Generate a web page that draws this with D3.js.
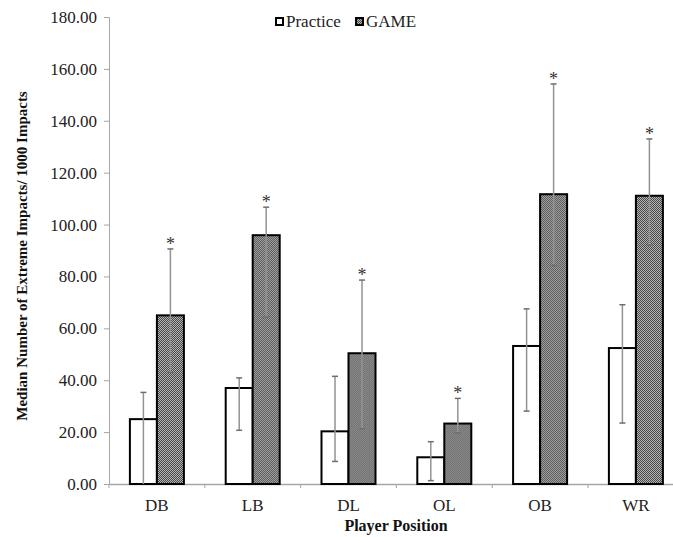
<!DOCTYPE html>
<html>
<head>
<meta charset="utf-8">
<script src="https://cdn.jsdelivr.net/npm/d3@7"></script>
<style>
  body { margin: 0; background: #fff; }
  svg { display: block; }
</style>
</head>
<body>
<div id="chart"></div>
<script>
// data
var positions = ["DB", "LB", "DL", "OL", "OB", "WR"];
var seriesNames = ["Practice", "GAME"];
var practice = [25.0, 37.0, 20.3, 10.3, 53.2, 52.4];
var practiceLow = [0.0, 20.7, 8.7, 1.3, 28.1, 23.5];
var practiceHigh = [35.3, 40.9, 41.5, 16.3, 67.5, 69.1];
var game = [65.0, 95.9, 50.4, 23.3, 111.7, 111.1];
var gameLow = [43.0, 64.3, 21.3, 19.7, 84.2, 92.1];
var gameHigh = [90.6, 106.7, 78.6, 33.0, 154.2, 133.0];
var yTicks = [0, 20, 40, 60, 80, 100, 120, 140, 160, 180];

var width = 673,
  height = 537;
var margin = { top: 17, left: 109, bottom: 53 };
var plotBottom = height - margin.bottom;
var serif = "Liberation Serif, Times New Roman, serif";

var svg = d3
  .select("#chart")
  .append("svg")
  .attr("width", width)
  .attr("height", height);

// checker fill for the GAME bars
var defs = svg.append("defs");
var pat = defs
  .append("pattern")
  .attr("id", "checker")
  .attr("width", 2)
  .attr("height", 2)
  .attr("patternUnits", "userSpaceOnUse");
pat.append("rect").attr("width", 2).attr("height", 2).attr("fill", "#b4b4b4");
pat.append("rect").attr("width", 1).attr("height", 1).attr("fill", "#484848");
pat.append("rect").attr("x", 1).attr("y", 1).attr("width", 1).attr("height", 1).attr("fill", "#484848");

var y = d3.scaleLinear().domain([0, 180]).range([plotBottom, margin.top]);

// the axis runs past the right edge of the picture, as in the original
var x = d3
  .scaleBand()
  .domain(positions)
  .range([margin.left, margin.left + 6 * 95.8])
  .paddingInner(0)
  .paddingOuter(0);

var xSub = d3
  .scaleBand()
  .domain(seriesNames)
  .range([0, x.bandwidth()])
  .paddingInner(0)
  .paddingOuter(0.774);

var rows = positions.map(function (p, i) {
  return {
    pos: p,
    vals: [
      { s: "Practice", v: practice[i], lo: practiceLow[i], hi: practiceHigh[i] },
      { s: "GAME", v: game[i], lo: gameLow[i], hi: gameHigh[i] },
    ],
  };
});

// y axis
var yAxis = svg
  .append("g")
  .attr("transform", "translate(" + margin.left + ",0)")
  .call(
    d3
      .axisLeft(y)
      .tickValues(yTicks)
      .tickSize(5)
      .tickPadding(7)
      .tickFormat(d3.format(".2f"))
  );
yAxis.select(".domain").attr("stroke", "#a6a6a6");
yAxis.selectAll(".tick line").attr("stroke", "#a6a6a6");
yAxis
  .selectAll("text")
  .attr("font-family", serif)
  .attr("font-size", "17px")
  .attr("fill", "#222");

// x axis
var xAxis = svg
  .append("g")
  .attr("transform", "translate(0," + plotBottom + ")")
  .call(d3.axisBottom(x).tickSize(0).tickPadding(15));
xAxis.select(".domain").attr("stroke", "#a6a6a6").attr("stroke-width", 1.5);
xAxis
  .selectAll("text")
  .attr("font-family", serif)
  .attr("font-size", "17px")
  .attr("fill", "#222");
// tick marks between categories
xAxis
  .selectAll(".sep")
  .data(positions)
  .enter()
  .append("line")
  .attr("x1", function (d) { return x(d); })
  .attr("x2", function (d) { return x(d); })
  .attr("y1", 0)
  .attr("y2", 4)
  .attr("stroke", "#a6a6a6");

// bars
var groups = svg
  .selectAll(".grp")
  .data(rows)
  .enter()
  .append("g")
  .attr("class", "grp")
  .attr("transform", function (d) {
    return "translate(" + x(d.pos) + ",0)";
  });

groups
  .selectAll("rect")
  .data(function (d) { return d.vals; })
  .enter()
  .append("rect")
  .attr("x", function (d) { return xSub(d.s); })
  .attr("y", function (d) { return y(d.v); })
  .attr("width", xSub.bandwidth())
  .attr("height", function (d) { return y(0) - y(d.v); })
  .attr("fill", function (d) { return d.s == "GAME" ? "url(#checker)" : "#fff"; })
  .attr("stroke", "#000")
  .attr("stroke-width", 2);

// error bars
var errs = groups
  .selectAll(".err")
  .data(function (d) { return d.vals; })
  .enter()
  .append("g")
  .attr("class", "err")
  .attr("transform", function (d) {
    return "translate(" + (xSub(d.s) + xSub.bandwidth() / 2) + ",0)";
  });
errs
  .append("line")
  .attr("y1", function (d) { return y(d.lo); })
  .attr("y2", function (d) { return y(d.hi); })
  .attr("stroke", "#939393")
  .attr("stroke-width", 1.5);
errs
  .append("line")
  .attr("x1", -3)
  .attr("x2", 3)
  .attr("y1", function (d) { return y(d.hi); })
  .attr("y2", function (d) { return y(d.hi); })
  .attr("stroke", "#6e6e6e")
  .attr("stroke-width", 1.5);
errs
  .filter(function (d) { return d.lo > 0; })
  .append("line")
  .attr("x1", -3)
  .attr("x2", 3)
  .attr("y1", function (d) { return y(d.lo); })
  .attr("y2", function (d) { return y(d.lo); })
  .attr("stroke", "#6e6e6e")
  .attr("stroke-width", 1.5);

// significance stars above GAME error bars
errs
  .filter(function (d) { return d.s == "GAME"; })
  .append("text")
  .attr("y", function (d) { return y(d.hi) + 1; })
  .attr("text-anchor", "middle")
  .attr("font-family", serif)
  .attr("font-size", "18px")
  .attr("fill", "#333")
  .text("*");

// axis titles
svg
  .append("text")
  .attr("transform", "translate(27,256) rotate(-90)")
  .attr("text-anchor", "middle")
  .attr("font-family", serif)
  .attr("font-weight", "bold")
  .attr("font-size", "15px")
  .attr("fill", "#111")
  .text("Median Number of Extreme Impacts/ 1000 Impacts");

svg
  .append("text")
  .attr("x", 396)
  .attr("y", 531)
  .attr("text-anchor", "middle")
  .attr("font-family", serif)
  .attr("font-weight", "bold")
  .attr("font-size", "16px")
  .attr("fill", "#111")
  .text("Player Position");

// legend
var legendX = [275, 355];
var legend = svg
  .selectAll(".legend")
  .data(seriesNames)
  .enter()
  .append("g")
  .attr("class", "legend")
  .attr("transform", function (d, i) {
    return "translate(" + legendX[i] + ",17)";
  });
legend
  .append("rect")
  .attr("x", 1)
  .attr("y", 1)
  .attr("width", 7)
  .attr("height", 7)
  .attr("fill", function (d) { return d == "GAME" ? "url(#checker)" : "#fff"; })
  .attr("stroke", "#000")
  .attr("stroke-width", 2);
legend
  .append("text")
  .attr("x", 11)
  .attr("y", 10)
  .attr("font-family", serif)
  .attr("font-size", "17px")
  .attr("fill", "#222")
  .text(function (d) { return d; });
</script>
</body>
</html>
